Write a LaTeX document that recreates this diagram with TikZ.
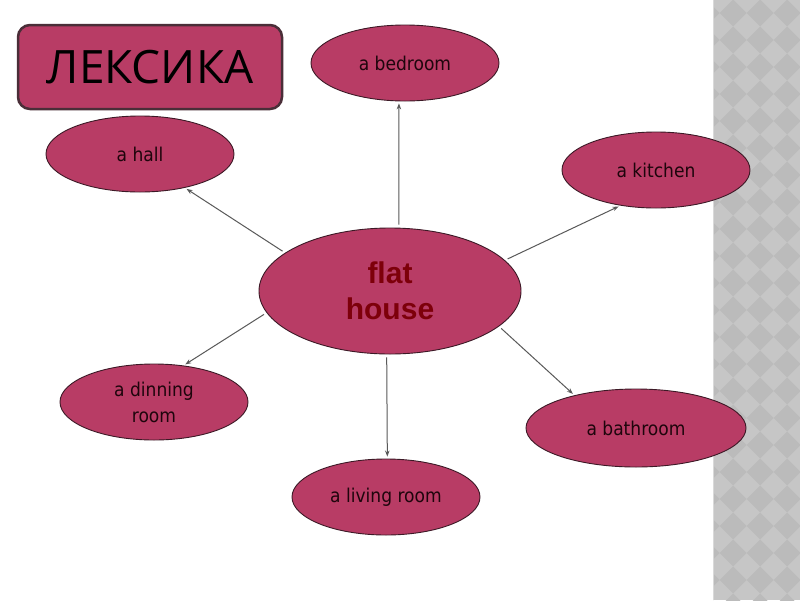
\documentclass[tikz,border=0pt]{standalone}
\usepackage{fontspec}
\setmainfont{DejaVu Sans Condensed}
\newfontfamily\titlefont{Open Sans}
\newfontfamily\boldfont{Liberation Sans}
\usetikzlibrary{shapes.geometric,arrows.meta}
\definecolor{crim}{RGB}{184,60,101}
\definecolor{edge}{RGB}{60,25,38}
\definecolor{lbl}{RGB}{30,5,12}
\definecolor{centertxt}{RGB}{125,0,10}
\definecolor{stripA}{RGB}{198,198,198}
\definecolor{stripB}{RGB}{187,187,187}
\tikzset{
  topic/.style={ellipse, draw=edge, line width=0.9pt, fill=crim, inner sep=0pt,
    minimum width=188pt, minimum height=76pt, align=center, text=lbl,
    font=\fontsize{19}{26}\selectfont},
  link/.style={draw=black!65, line width=1pt, -{Stealth[length=6pt,width=4.5pt]},
    shorten <=3pt, shorten >=2pt}
}
\begin{document}
\begin{tikzpicture}[x=1pt,y=-1pt]
\useasboundingbox (0,0) rectangle (800,600);
\fill[white] (0,0) rectangle (800,600);
% patterned strip
\begin{scope}
  \clip (713,0) rectangle (800,600);
  \fill[stripA] (713,0) rectangle (800,600);
  \foreach \i in {-1,...,3}{
    \foreach \j in {-1,...,23}{
      \fill[stripB] ({733+27*\i},{13+27*\j-13.5}) -- ++(13.5,13.5) -- ++(-13.5,13.5) -- ++(-13.5,-13.5) -- cycle;
    }
  }
  \draw[white!85!black, line width=1pt] (713.5,0) -- (713.5,600);
\end{scope}
% title
\node[draw=edge!80!gray, line width=2.5pt, fill=crim, rounded corners=12pt,
  minimum width=264pt, minimum height=84pt, inner sep=0pt,
  font=\titlefont\fontsize{46}{50}\selectfont, text=black] (title) at (150,67) {ЛЕКСИКА};
% nodes
\node[topic, minimum width=262pt, minimum height=126pt, text=centertxt,
  font=\boldfont\bfseries\fontsize{30}{36}\selectfont] (c) at (390,291) {flat\\house};
\node[topic] (bed) at (405,63) {a bedroom};
\node[topic] (hall) at (140,154) {a hall};
\node[topic] (kit) at (656,170) {a kitchen};
\node[topic] (din) at (154,402) {a dinning\\room};
\node[topic, minimum width=220pt, minimum height=78pt] (bath) at (636,428) {a bathroom};
\node[topic] (liv) at (386,497) {a living room};
% connectors
\draw[link] (c.82.6) -- (bed.261.5);
\draw[link] (c.160) -- (hall.323);
\draw[link] (c.15.8) -- (kit.225);
\draw[link] (c.190) -- (din.51);
\draw[link] (c.342) -- (bath.152);
\draw[link] (c.267) -- (liv.88.5);
\end{tikzpicture}
\end{document}
